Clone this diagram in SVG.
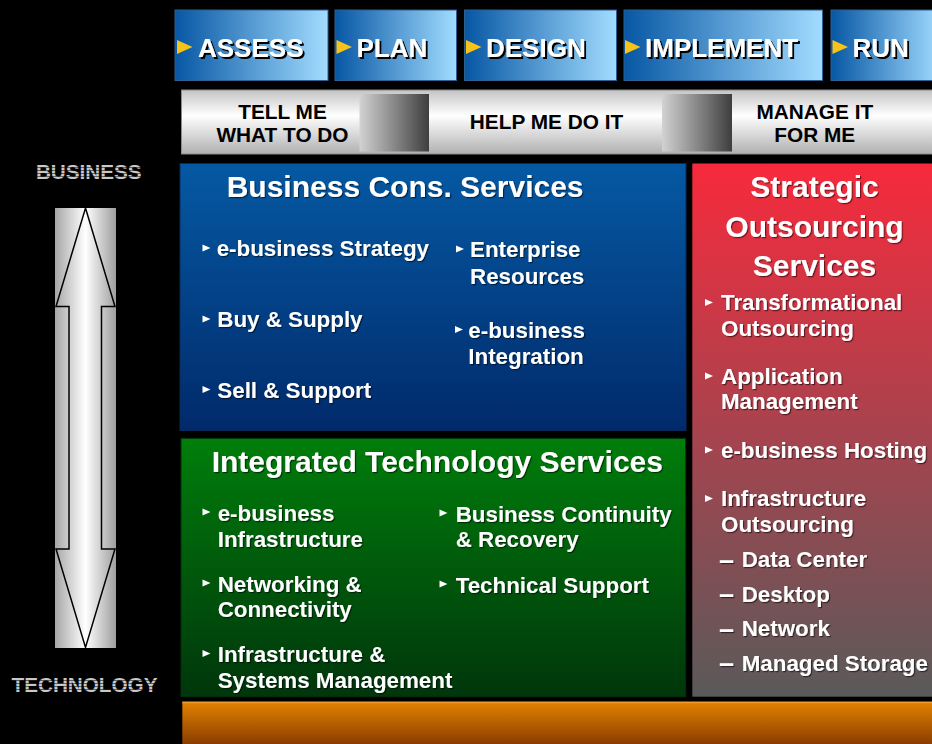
<svg xmlns="http://www.w3.org/2000/svg" width="932" height="744" viewBox="0 0 932 744">
<defs>
<style>
text{font-family:"Liberation Sans",Arial,Helvetica,sans-serif;font-weight:bold}
.phase{font-size:26px;fill:#fff;filter:url(#hs)}
.bar{font-size:20.8px;fill:#000;text-anchor:middle}
.title{font-size:30px;fill:#fff;filter:url(#ds)}
.item{font-size:22.35px;fill:#fff;filter:url(#ds)}
.dash{font-size:27px;fill:#fff;filter:url(#ds)}
.axis{font-size:20.7px;text-anchor:middle;fill:url(#stripe)}
.tri{fill:#f7c21a}
.bul{fill:#fff}
.pbox{stroke:#2f5f8f;stroke-width:1}
</style>
<linearGradient id="gPhase" x1="0" y1="0" x2="1" y2="0">
<stop offset="0" stop-color="#0757a4"/><stop offset="1" stop-color="#a2dcff"/>
</linearGradient>
<linearGradient id="gBar" x1="0" y1="0" x2="0" y2="1">
<stop offset="0" stop-color="#c4c4c4"/><stop offset="0.4" stop-color="#ffffff"/><stop offset="1" stop-color="#b0b0b0"/>
</linearGradient>
<linearGradient id="gSq" x1="0" y1="0" x2="1" y2="0">
<stop offset="0" stop-color="#d2d2d2"/><stop offset="1" stop-color="#3e3e3e"/>
</linearGradient>
<linearGradient id="gBlue" x1="0" y1="0" x2="0" y2="1">
<stop offset="0" stop-color="#0559a3"/><stop offset="1" stop-color="#012a6b"/>
</linearGradient>
<linearGradient id="gGreen" x1="0" y1="0" x2="0" y2="1">
<stop offset="0" stop-color="#007e0b"/><stop offset="1" stop-color="#00360b"/>
</linearGradient>
<linearGradient id="gRed" x1="0" y1="0" x2="0" y2="1">
<stop offset="0" stop-color="#f72a3c"/><stop offset="0.5" stop-color="#a8434e"/><stop offset="1" stop-color="#5a5a5a"/>
</linearGradient>
<linearGradient id="gOrange" x1="0" y1="0" x2="0" y2="1">
<stop offset="0" stop-color="#e28200"/><stop offset="1" stop-color="#8a3c00"/>
</linearGradient>
<linearGradient id="gArrow" x1="0" y1="0" x2="1" y2="0">
<stop offset="0" stop-color="#a6a6a6"/><stop offset="0.5" stop-color="#ffffff"/><stop offset="1" stop-color="#9e9e9e"/>
</linearGradient>
<pattern id="stripe" patternUnits="userSpaceOnUse" width="4" height="3">
<rect width="4" height="2" fill="#c8c8c8"/><rect y="2" width="4" height="1" fill="#5e5e5e"/>
</pattern>
<filter id="ds" x="-5%" y="-20%" width="110%" height="140%">
<feDropShadow dx="1.2" dy="1.2" stdDeviation="0.4" flood-color="#000" flood-opacity="0.55"/>
</filter>
<filter id="hs" x="-5%" y="-20%" width="115%" height="150%">
<feDropShadow dx="2" dy="2" stdDeviation="0" flood-color="#000" flood-opacity="1"/>
</filter>
<path id="bt" d="M0,-3.6 L8,0 L0,3.6 Z"/>
<path id="yt" d="M0,0 L15.5,7 L0,14 Z"/>
</defs>

<rect width="932" height="744" fill="#000"/>

<g id="phases">
<g id="assess">
<rect class="pbox" x="175" y="10" width="153" height="70.5" fill="url(#gPhase)"/>
<use href="#yt" class="tri" x="177" y="40"/>
<text class="phase" x="198" y="57">ASSESS</text>
</g>
<g id="plan">
<rect class="pbox" x="335" y="10" width="121.5" height="70.5" fill="url(#gPhase)"/>
<use href="#yt" class="tri" x="336.5" y="40"/>
<text class="phase" x="356.5" y="57">PLAN</text>
</g>
<g id="design">
<rect class="pbox" x="464.5" y="10" width="152" height="70.5" fill="url(#gPhase)"/>
<use href="#yt" class="tri" x="466" y="40"/>
<text class="phase" x="486" y="57">DESIGN</text>
</g>
<g id="implement">
<rect class="pbox" x="624" y="10" width="198.5" height="70.5" fill="url(#gPhase)"/>
<use href="#yt" class="tri" x="625" y="40"/>
<text class="phase" x="645" y="57">IMPLEMENT</text>
</g>
<g id="run">
<rect class="pbox" x="831" y="10" width="110" height="70.5" fill="url(#gPhase)"/>
<use href="#yt" class="tri" x="832.5" y="40"/>
<text class="phase" x="852.5" y="57">RUN</text>
</g>
</g>

<g id="engagement">
<rect x="181.5" y="90" width="760" height="64" fill="url(#gBar)" stroke="#8a8a8a" stroke-width="1"/>
<rect x="359.5" y="94" width="69.5" height="57.5" fill="url(#gSq)"/>
<rect x="662" y="94" width="70" height="57.5" fill="url(#gSq)"/>
<text class="bar" x="282.5" y="119">TELL ME</text>
<text class="bar" x="282.5" y="141.5">WHAT TO DO</text>
<text class="bar" x="546.5" y="129">HELP ME DO IT</text>
<text class="bar" x="814.8" y="119">MANAGE IT</text>
<text class="bar" x="814.8" y="141.5">FOR ME</text>
</g>

<g id="axis">
<rect x="55" y="208" width="61" height="440" fill="url(#gArrow)"/>
<path d="M85.5,208 L115,306.5 L101.5,306.5 L101.5,549 L115,549 L85.5,647.5 L56,549 L69,549 L69,306.5 L56,306.5 Z" fill="none" stroke="#000" stroke-width="1.5" stroke-linejoin="miter"/>
<text class="axis" x="88.8" y="179.3">BUSINESS</text>
<text class="axis" x="84.5" y="692">TECHNOLOGY</text>
</g>

<g id="business-cons">
<rect x="180" y="163.5" width="506" height="267" fill="url(#gBlue)" stroke="#0a2a5a" stroke-width="1"/>
<text class="title" x="226.7" y="196.5">Business Cons. Services</text>
<use href="#bt" class="bul" x="202.5" y="248"/>
<text class="item" x="216.7" y="256">e-business Strategy</text>
<use href="#bt" class="bul" x="202.5" y="319"/>
<text class="item" x="217.3" y="327">Buy &amp; Supply</text>
<use href="#bt" class="bul" x="202.5" y="389.5"/>
<text class="item" x="217.3" y="397.5">Sell &amp; Support</text>
<use href="#bt" class="bul" x="456" y="249"/>
<text class="item" x="470" y="257">Enterprise</text>
<text class="item" x="470" y="283.5">Resources</text>
<use href="#bt" class="bul" x="455" y="329.5"/>
<text class="item" x="468.3" y="337.5">e-business</text>
<text class="item" x="468.3" y="363.5">Integration</text>
</g>

<g id="integrated-tech">
<rect x="181" y="438.3" width="504.7" height="258.4" fill="url(#gGreen)" stroke="#003008" stroke-width="1"/>
<text class="title" x="211.7" y="472">Integrated Technology Services</text>
<use href="#bt" class="bul" x="202.5" y="512"/>
<text class="item" x="217.7" y="520.5">e-business</text>
<text class="item" x="217.7" y="546.5">Infrastructure</text>
<use href="#bt" class="bul" x="202.5" y="583"/>
<text class="item" x="217.7" y="591.5">Networking &amp;</text>
<text class="item" x="217.7" y="617">Connectivity</text>
<use href="#bt" class="bul" x="202.5" y="653.5"/>
<text class="item" x="217.7" y="662">Infrastructure &amp;</text>
<text class="item" x="217.7" y="687.5">Systems Management</text>
<use href="#bt" class="bul" x="439.5" y="513"/>
<text class="item" x="455.7" y="521.5">Business Continuity</text>
<text class="item" x="455.7" y="547">&amp; Recovery</text>
<use href="#bt" class="bul" x="439.5" y="584"/>
<text class="item" x="455.7" y="592.5">Technical Support</text>
</g>

<g id="strategic-outsourcing">
<rect x="692.3" y="163.5" width="250" height="533.2" fill="url(#gRed)"/>
<text class="title" x="814.5" y="197" text-anchor="middle">Strategic</text>
<text class="title" x="814.5" y="236.5" text-anchor="middle">Outsourcing</text>
<text class="title" x="814.5" y="276" text-anchor="middle">Services</text>
<use href="#bt" class="bul" x="705" y="302.5"/>
<text class="item" x="721" y="310">Transformational</text>
<text class="item" x="721" y="335.5">Outsourcing</text>
<use href="#bt" class="bul" x="705" y="376"/>
<text class="item" x="721" y="383.5">Application</text>
<text class="item" x="721" y="409">Management</text>
<use href="#bt" class="bul" x="705" y="450"/>
<text class="item" x="721" y="457.5">e-business Hosting</text>
<use href="#bt" class="bul" x="705" y="498.5"/>
<text class="item" x="721" y="506">Infrastructure</text>
<text class="item" x="721" y="531.5">Outsourcing</text>
<text class="dash" x="719" y="568.5">–</text>
<text class="item" x="741.7" y="567">Data Center</text>
<text class="dash" x="719" y="603">–</text>
<text class="item" x="741.7" y="601.5">Desktop</text>
<text class="dash" x="719" y="637.5">–</text>
<text class="item" x="741.7" y="636">Network</text>
<text class="dash" x="719" y="672">–</text>
<text class="item" x="741.7" y="670.5">Managed Storage</text>
</g>

<g id="foundation">
<rect x="182.3" y="701.7" width="760" height="43" fill="url(#gOrange)"/>
<rect x="182.3" y="701.7" width="760" height="1.5" fill="#f09a30"/>
</g>

<g id="connectors"></g>
</svg>
